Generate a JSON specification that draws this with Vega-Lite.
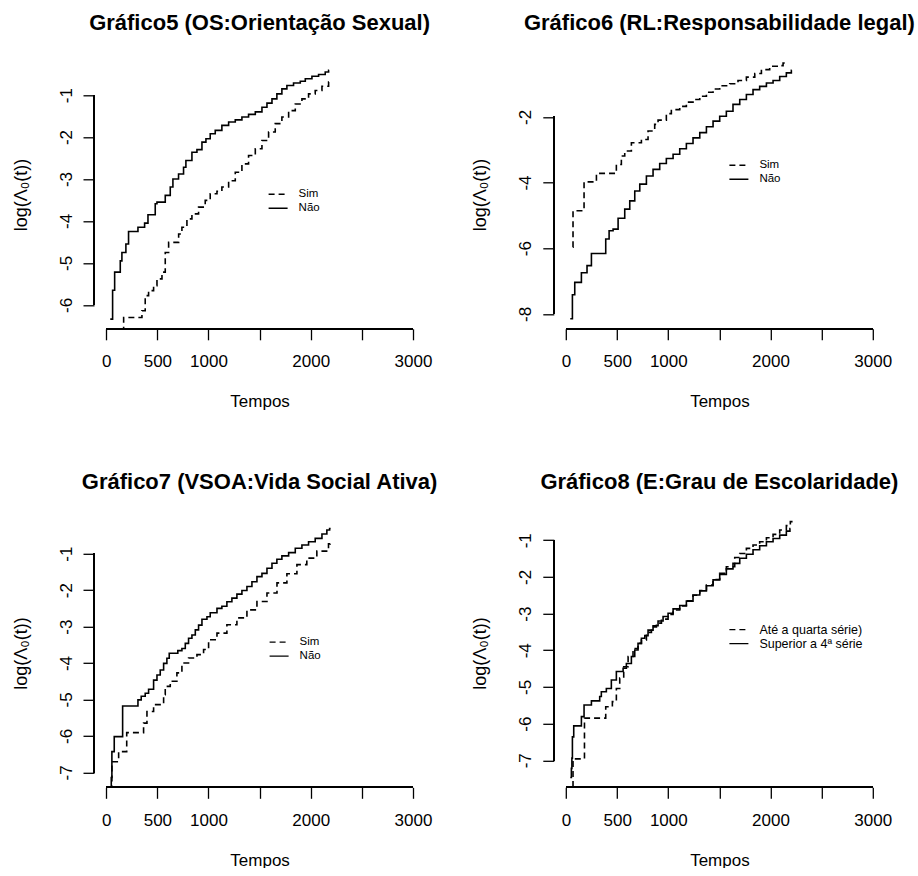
{
  "$schema": "https://vega.github.io/schema/vega-lite/v6.json",
  "background": "white",
  "padding": {"left": 11, "top": 12.3, "right": 0, "bottom": 0},
  "config": {
    "font": "Liberation Sans",
    "view": {"stroke": null},
    "title": {"font": "Liberation Sans", "fontSize": 22, "fontWeight": "bold", "color": "black", "anchor": "middle", "offset": 25},
    "axis": {
      "domain": false, "grid": false, "ticks": true,
      "tickColor": "black", "tickWidth": 1.3, "tickSize": 11,
      "labelFont": "Liberation Sans", "labelFontSize": 17, "labelColor": "black",
      "labelFlush": false, "labelOverlap": false,
      "titleFont": "Liberation Sans", "titleFontSize": 17, "titleFontWeight": "normal", "titleColor": "black"
    },
    "legend": {
      "orient": "none", "padding": 0, "symbolType": "stroke", "symbolSize": 361,
      "symbolStrokeWidth": 1.4, "symbolStrokeColor": "black",
      "labelFont": "Liberation Sans", "labelFontSize": 11.5, "labelColor": "black",
      "labelOffset": 10, "rowPadding": 0, "clipHeight": 13.2
    }
  },
  "datasets": {
    "p5": [
      {"t": 39, "v": -6.34, "g": "Não"}, {"t": 62, "v": -5.65, "g": "Não"}, {"t": 82, "v": -5.22, "g": "Não"},
      {"t": 137, "v": -4.95, "g": "Não"}, {"t": 153, "v": -4.75, "g": "Não"}, {"t": 192, "v": -4.55, "g": "Não"},
      {"t": 218, "v": -4.25, "g": "Não"}, {"t": 310, "v": -4.15, "g": "Não"}, {"t": 375, "v": -4.05, "g": "Não"},
      {"t": 408, "v": -3.85, "g": "Não"}, {"t": 479, "v": -3.59, "g": "Não"}, {"t": 496, "v": -3.55, "g": "Não"},
      {"t": 577, "v": -3.39, "g": "Não"}, {"t": 626, "v": -3.19, "g": "Não"}, {"t": 652, "v": -3.0, "g": "Não"},
      {"t": 707, "v": -2.88, "g": "Não"}, {"t": 756, "v": -2.72, "g": "Não"}, {"t": 779, "v": -2.56, "g": "Não"},
      {"t": 838, "v": -2.36, "g": "Não"}, {"t": 887, "v": -2.3, "g": "Não"}, {"t": 936, "v": -2.12, "g": "Não"},
      {"t": 975, "v": -2.04, "g": "Não"}, {"t": 1017, "v": -1.92, "g": "Não"}, {"t": 1066, "v": -1.84, "g": "Não"},
      {"t": 1131, "v": -1.72, "g": "Não"}, {"t": 1197, "v": -1.64, "g": "Não"}, {"t": 1262, "v": -1.59, "g": "Não"},
      {"t": 1327, "v": -1.52, "g": "Não"}, {"t": 1392, "v": -1.46, "g": "Não"}, {"t": 1458, "v": -1.4, "g": "Não"},
      {"t": 1523, "v": -1.29, "g": "Não"}, {"t": 1572, "v": -1.19, "g": "Não"}, {"t": 1621, "v": -1.09, "g": "Não"},
      {"t": 1669, "v": -0.97, "g": "Não"}, {"t": 1718, "v": -0.85, "g": "Não"}, {"t": 1767, "v": -0.77, "g": "Não"},
      {"t": 1832, "v": -0.71, "g": "Não"}, {"t": 1898, "v": -0.67, "g": "Não"}, {"t": 1947, "v": -0.61, "g": "Não"},
      {"t": 2012, "v": -0.55, "g": "Não"}, {"t": 2077, "v": -0.51, "g": "Não"}, {"t": 2142, "v": -0.45, "g": "Não"},
      {"t": 2175, "v": -0.41, "g": "Não"}, {"t": 2180, "v": -0.41, "g": "Não"},
      {"t": 169, "v": -6.9, "g": "Sim"}, {"t": 170, "v": -6.3, "g": "Sim"}, {"t": 349, "v": -6.14, "g": "Sim"},
      {"t": 381, "v": -5.78, "g": "Sim"}, {"t": 414, "v": -5.66, "g": "Sim"}, {"t": 463, "v": -5.54, "g": "Sim"},
      {"t": 496, "v": -5.38, "g": "Sim"}, {"t": 545, "v": -5.22, "g": "Sim"}, {"t": 577, "v": -4.75, "g": "Sim"},
      {"t": 610, "v": -4.51, "g": "Sim"}, {"t": 708, "v": -4.31, "g": "Sim"}, {"t": 740, "v": -4.15, "g": "Sim"},
      {"t": 789, "v": -3.95, "g": "Sim"}, {"t": 838, "v": -3.83, "g": "Sim"}, {"t": 903, "v": -3.67, "g": "Sim"},
      {"t": 968, "v": -3.51, "g": "Sim"}, {"t": 1017, "v": -3.35, "g": "Sim"}, {"t": 1083, "v": -3.29, "g": "Sim"},
      {"t": 1131, "v": -3.19, "g": "Sim"}, {"t": 1197, "v": -3.04, "g": "Sim"}, {"t": 1262, "v": -2.84, "g": "Sim"},
      {"t": 1327, "v": -2.64, "g": "Sim"}, {"t": 1392, "v": -2.44, "g": "Sim"}, {"t": 1458, "v": -2.28, "g": "Sim"},
      {"t": 1523, "v": -2.08, "g": "Sim"}, {"t": 1588, "v": -1.88, "g": "Sim"}, {"t": 1653, "v": -1.68, "g": "Sim"},
      {"t": 1718, "v": -1.52, "g": "Sim"}, {"t": 1784, "v": -1.37, "g": "Sim"}, {"t": 1849, "v": -1.21, "g": "Sim"},
      {"t": 1914, "v": -1.09, "g": "Sim"}, {"t": 1979, "v": -0.97, "g": "Sim"}, {"t": 2044, "v": -0.89, "g": "Sim"},
      {"t": 2110, "v": -0.79, "g": "Sim"}, {"t": 2175, "v": -0.69, "g": "Sim"}, {"t": 2185, "v": -0.69, "g": "Sim"}
    ],
    "p6": [
      {"t": 41, "v": -8.15, "g": "Não"}, {"t": 62, "v": -7.42, "g": "Não"}, {"t": 85, "v": -7.04, "g": "Não"},
      {"t": 150, "v": -6.75, "g": "Não"}, {"t": 205, "v": -6.53, "g": "Não"}, {"t": 248, "v": -6.16, "g": "Não"},
      {"t": 388, "v": -5.72, "g": "Não"}, {"t": 421, "v": -5.47, "g": "Não"}, {"t": 460, "v": -5.42, "g": "Não"},
      {"t": 509, "v": -5.09, "g": "Não"}, {"t": 574, "v": -4.81, "g": "Não"}, {"t": 623, "v": -4.56, "g": "Não"},
      {"t": 672, "v": -4.26, "g": "Não"}, {"t": 721, "v": -4.05, "g": "Não"}, {"t": 786, "v": -3.8, "g": "Não"},
      {"t": 851, "v": -3.6, "g": "Não"}, {"t": 916, "v": -3.42, "g": "Não"}, {"t": 981, "v": -3.27, "g": "Não"},
      {"t": 1047, "v": -3.14, "g": "Não"}, {"t": 1112, "v": -2.97, "g": "Não"}, {"t": 1177, "v": -2.81, "g": "Não"},
      {"t": 1242, "v": -2.64, "g": "Não"}, {"t": 1308, "v": -2.48, "g": "Não"}, {"t": 1373, "v": -2.3, "g": "Não"},
      {"t": 1438, "v": -2.13, "g": "Não"}, {"t": 1503, "v": -1.98, "g": "Não"}, {"t": 1568, "v": -1.83, "g": "Não"},
      {"t": 1633, "v": -1.62, "g": "Não"}, {"t": 1699, "v": -1.47, "g": "Não"}, {"t": 1764, "v": -1.32, "g": "Não"},
      {"t": 1829, "v": -1.17, "g": "Não"}, {"t": 1894, "v": -1.07, "g": "Não"}, {"t": 1960, "v": -0.97, "g": "Não"},
      {"t": 2025, "v": -0.89, "g": "Não"}, {"t": 2090, "v": -0.77, "g": "Não"}, {"t": 2155, "v": -0.66, "g": "Não"},
      {"t": 2204, "v": -0.58, "g": "Não"}, {"t": 2208, "v": -0.58, "g": "Não"},
      {"t": 67, "v": -5.97, "g": "Sim"}, {"t": 68, "v": -4.86, "g": "Sim"}, {"t": 176, "v": -3.98, "g": "Sim"},
      {"t": 297, "v": -3.72, "g": "Sim"}, {"t": 492, "v": -3.45, "g": "Sim"}, {"t": 541, "v": -3.19, "g": "Sim"},
      {"t": 574, "v": -3.04, "g": "Sim"}, {"t": 639, "v": -2.79, "g": "Sim"}, {"t": 737, "v": -2.69, "g": "Sim"},
      {"t": 802, "v": -2.43, "g": "Sim"}, {"t": 867, "v": -2.23, "g": "Sim"}, {"t": 900, "v": -2.1, "g": "Sim"},
      {"t": 981, "v": -1.9, "g": "Sim"}, {"t": 1030, "v": -1.78, "g": "Sim"}, {"t": 1112, "v": -1.68, "g": "Sim"},
      {"t": 1177, "v": -1.55, "g": "Sim"}, {"t": 1242, "v": -1.47, "g": "Sim"}, {"t": 1308, "v": -1.37, "g": "Sim"},
      {"t": 1373, "v": -1.25, "g": "Sim"}, {"t": 1438, "v": -1.15, "g": "Sim"}, {"t": 1503, "v": -1.05, "g": "Sim"},
      {"t": 1601, "v": -0.99, "g": "Sim"}, {"t": 1682, "v": -0.89, "g": "Sim"}, {"t": 1764, "v": -0.79, "g": "Sim"},
      {"t": 1846, "v": -0.68, "g": "Sim"}, {"t": 1911, "v": -0.56, "g": "Sim"}, {"t": 1992, "v": -0.46, "g": "Sim"},
      {"t": 2074, "v": -0.44, "g": "Sim"}, {"t": 2123, "v": -0.36, "g": "Sim"}, {"t": 2140, "v": -0.36, "g": "Sim"}
    ],
    "p7": [
      {"t": 48, "v": -7.8, "g": "Não"}, {"t": 49, "v": -7.14, "g": "Não"}, {"t": 55, "v": -6.43, "g": "Não"},
      {"t": 78, "v": -6.02, "g": "Não"}, {"t": 160, "v": -5.18, "g": "Não"}, {"t": 310, "v": -5.01, "g": "Não"},
      {"t": 342, "v": -4.91, "g": "Não"}, {"t": 381, "v": -4.83, "g": "Não"}, {"t": 414, "v": -4.72, "g": "Não"},
      {"t": 463, "v": -4.47, "g": "Não"}, {"t": 496, "v": -4.33, "g": "Não"}, {"t": 528, "v": -4.19, "g": "Não"},
      {"t": 561, "v": -4.01, "g": "Não"}, {"t": 593, "v": -3.87, "g": "Não"}, {"t": 616, "v": -3.73, "g": "Não"},
      {"t": 700, "v": -3.66, "g": "Não"}, {"t": 740, "v": -3.6, "g": "Não"}, {"t": 773, "v": -3.46, "g": "Não"},
      {"t": 805, "v": -3.32, "g": "Não"}, {"t": 838, "v": -3.23, "g": "Não"}, {"t": 871, "v": -3.09, "g": "Não"},
      {"t": 903, "v": -2.96, "g": "Não"}, {"t": 936, "v": -2.8, "g": "Não"}, {"t": 985, "v": -2.73, "g": "Não"},
      {"t": 1017, "v": -2.62, "g": "Não"}, {"t": 1083, "v": -2.5, "g": "Não"}, {"t": 1131, "v": -2.44, "g": "Não"},
      {"t": 1180, "v": -2.32, "g": "Não"}, {"t": 1229, "v": -2.22, "g": "Não"}, {"t": 1278, "v": -2.11, "g": "Não"},
      {"t": 1327, "v": -2.01, "g": "Não"}, {"t": 1376, "v": -1.9, "g": "Não"}, {"t": 1425, "v": -1.77, "g": "Não"},
      {"t": 1474, "v": -1.63, "g": "Não"}, {"t": 1523, "v": -1.54, "g": "Não"}, {"t": 1572, "v": -1.4, "g": "Não"},
      {"t": 1621, "v": -1.26, "g": "Não"}, {"t": 1669, "v": -1.15, "g": "Não"}, {"t": 1718, "v": -1.06, "g": "Não"},
      {"t": 1784, "v": -0.97, "g": "Não"}, {"t": 1849, "v": -0.85, "g": "Não"}, {"t": 1914, "v": -0.76, "g": "Não"},
      {"t": 1979, "v": -0.67, "g": "Não"}, {"t": 2044, "v": -0.58, "g": "Não"}, {"t": 2110, "v": -0.46, "g": "Não"},
      {"t": 2158, "v": -0.35, "g": "Não"}, {"t": 2185, "v": -0.31, "g": "Não"}, {"t": 2195, "v": -0.31, "g": "Não"},
      {"t": 54, "v": -7.8, "g": "Sim"}, {"t": 55, "v": -6.71, "g": "Sim"}, {"t": 121, "v": -6.43, "g": "Sim"},
      {"t": 200, "v": -5.91, "g": "Sim"}, {"t": 365, "v": -5.65, "g": "Sim"}, {"t": 398, "v": -5.33, "g": "Sim"},
      {"t": 463, "v": -5.14, "g": "Sim"}, {"t": 561, "v": -4.87, "g": "Sim"}, {"t": 577, "v": -4.64, "g": "Sim"},
      {"t": 626, "v": -4.5, "g": "Sim"}, {"t": 691, "v": -4.27, "g": "Sim"}, {"t": 740, "v": -4.0, "g": "Sim"},
      {"t": 805, "v": -3.86, "g": "Sim"}, {"t": 887, "v": -3.77, "g": "Sim"}, {"t": 952, "v": -3.63, "g": "Sim"},
      {"t": 1001, "v": -3.36, "g": "Sim"}, {"t": 1083, "v": -3.18, "g": "Sim"}, {"t": 1180, "v": -2.95, "g": "Sim"},
      {"t": 1278, "v": -2.76, "g": "Sim"}, {"t": 1376, "v": -2.54, "g": "Sim"}, {"t": 1474, "v": -2.31, "g": "Sim"},
      {"t": 1572, "v": -2.08, "g": "Sim"}, {"t": 1670, "v": -1.8, "g": "Sim"}, {"t": 1767, "v": -1.55, "g": "Sim"},
      {"t": 1865, "v": -1.3, "g": "Sim"}, {"t": 1962, "v": -1.12, "g": "Sim"}, {"t": 2060, "v": -0.93, "g": "Sim"},
      {"t": 2174, "v": -0.73, "g": "Sim"}, {"t": 2190, "v": -0.71, "g": "Sim"}
    ],
    "p8": [
      {"t": 41, "v": -7.47, "g": "Superior a 4ª série"}, {"t": 52, "v": -7.22, "g": "Superior a 4ª série"},
      {"t": 57, "v": -6.94, "g": "Superior a 4ª série"}, {"t": 62, "v": -6.36, "g": "Superior a 4ª série"},
      {"t": 75, "v": -6.06, "g": "Superior a 4ª série"}, {"t": 150, "v": -5.81, "g": "Superior a 4ª série"},
      {"t": 176, "v": -5.49, "g": "Superior a 4ª série"}, {"t": 248, "v": -5.38, "g": "Superior a 4ª série"},
      {"t": 329, "v": -5.26, "g": "Superior a 4ª série"}, {"t": 345, "v": -5.13, "g": "Superior a 4ª série"},
      {"t": 394, "v": -5.04, "g": "Superior a 4ª série"}, {"t": 443, "v": -4.81, "g": "Superior a 4ª série"},
      {"t": 492, "v": -4.58, "g": "Superior a 4ª série"}, {"t": 558, "v": -4.49, "g": "Superior a 4ª série"},
      {"t": 590, "v": -4.36, "g": "Superior a 4ª série"}, {"t": 639, "v": -4.17, "g": "Superior a 4ª série"},
      {"t": 672, "v": -3.99, "g": "Superior a 4ª série"}, {"t": 704, "v": -3.81, "g": "Superior a 4ª série"},
      {"t": 737, "v": -3.67, "g": "Superior a 4ª série"}, {"t": 770, "v": -3.6, "g": "Superior a 4ª série"},
      {"t": 802, "v": -3.45, "g": "Superior a 4ª série"}, {"t": 851, "v": -3.33, "g": "Superior a 4ª série"},
      {"t": 900, "v": -3.2, "g": "Superior a 4ª série"}, {"t": 949, "v": -3.08, "g": "Superior a 4ª série"},
      {"t": 998, "v": -2.99, "g": "Superior a 4ª série"}, {"t": 1047, "v": -2.87, "g": "Superior a 4ª série"},
      {"t": 1112, "v": -2.78, "g": "Superior a 4ª série"}, {"t": 1177, "v": -2.66, "g": "Superior a 4ª série"},
      {"t": 1242, "v": -2.49, "g": "Superior a 4ª série"}, {"t": 1308, "v": -2.38, "g": "Superior a 4ª série"},
      {"t": 1373, "v": -2.24, "g": "Superior a 4ª série"}, {"t": 1438, "v": -2.08, "g": "Superior a 4ª série"},
      {"t": 1503, "v": -1.93, "g": "Superior a 4ª série"}, {"t": 1568, "v": -1.78, "g": "Superior a 4ª série"},
      {"t": 1633, "v": -1.63, "g": "Superior a 4ª série"}, {"t": 1699, "v": -1.49, "g": "Superior a 4ª série"},
      {"t": 1764, "v": -1.38, "g": "Superior a 4ª série"}, {"t": 1829, "v": -1.26, "g": "Superior a 4ª série"},
      {"t": 1894, "v": -1.15, "g": "Superior a 4ª série"}, {"t": 1960, "v": -1.04, "g": "Superior a 4ª série"},
      {"t": 2025, "v": -0.95, "g": "Superior a 4ª série"}, {"t": 2090, "v": -0.86, "g": "Superior a 4ª série"},
      {"t": 2155, "v": -0.75, "g": "Superior a 4ª série"}, {"t": 2190, "v": -0.68, "g": "Superior a 4ª série"},
      {"t": 2195, "v": -0.68, "g": "Superior a 4ª série"},
      {"t": 67, "v": -8.0, "g": "Até a quarta série)"}, {"t": 68, "v": -6.96, "g": "Até a quarta série)"},
      {"t": 180, "v": -5.85, "g": "Até a quarta série)"}, {"t": 388, "v": -5.54, "g": "Até a quarta série)"},
      {"t": 453, "v": -5.4, "g": "Até a quarta série)"}, {"t": 492, "v": -5.04, "g": "Até a quarta série)"},
      {"t": 525, "v": -4.76, "g": "Até a quarta série)"}, {"t": 564, "v": -4.45, "g": "Até a quarta série)"},
      {"t": 607, "v": -4.17, "g": "Até a quarta série)"}, {"t": 655, "v": -3.95, "g": "Até a quarta série)"},
      {"t": 704, "v": -3.81, "g": "Até a quarta série)"}, {"t": 737, "v": -3.72, "g": "Até a quarta série)"},
      {"t": 786, "v": -3.51, "g": "Até a quarta série)"}, {"t": 835, "v": -3.36, "g": "Até a quarta série)"},
      {"t": 884, "v": -3.26, "g": "Até a quarta série)"}, {"t": 933, "v": -3.15, "g": "Até a quarta série)"},
      {"t": 998, "v": -3.02, "g": "Até a quarta série)"}, {"t": 1047, "v": -2.9, "g": "Até a quarta série)"},
      {"t": 1112, "v": -2.79, "g": "Até a quarta série)"}, {"t": 1177, "v": -2.65, "g": "Até a quarta série)"},
      {"t": 1242, "v": -2.5, "g": "Até a quarta série)"}, {"t": 1308, "v": -2.37, "g": "Até a quarta série)"},
      {"t": 1373, "v": -2.22, "g": "Até a quarta série)"}, {"t": 1438, "v": -2.07, "g": "Até a quarta série)"},
      {"t": 1503, "v": -1.9, "g": "Até a quarta série)"}, {"t": 1568, "v": -1.72, "g": "Até a quarta série)"},
      {"t": 1650, "v": -1.47, "g": "Até a quarta série)"}, {"t": 1699, "v": -1.36, "g": "Até a quarta série)"},
      {"t": 1764, "v": -1.22, "g": "Até a quarta série)"}, {"t": 1829, "v": -1.13, "g": "Até a quarta série)"},
      {"t": 1894, "v": -1.04, "g": "Até a quarta série)"}, {"t": 1960, "v": -0.93, "g": "Até a quarta série)"},
      {"t": 2025, "v": -0.84, "g": "Até a quarta série)"}, {"t": 2090, "v": -0.72, "g": "Até a quarta série)"},
      {"t": 2155, "v": -0.6, "g": "Até a quarta série)"}, {"t": 2194, "v": -0.49, "g": "Até a quarta série)"},
      {"t": 2208, "v": -0.47, "g": "Até a quarta série)"}
    ]
  },
  "columns": 2,
  "bounds": "flush",
  "spacing": {"row": 189.5, "column": 127.8},
  "resolve": {"scale": {"strokeDash": "independent"}, "legend": {"strokeDash": "independent"}},
  "concat": [
    {
      "width": 331.2, "height": 268.5,
      "title": "Gráfico5 (OS:Orientação Sexual)",
      "data": {"name": "p5"},
      "layer": [
        {
          "mark": {"type": "line", "interpolate": "step-after", "clip": true, "color": "black", "strokeWidth": 1.6},
          "encoding": {
            "x": {"field": "t", "type": "quantitative", "scale": {"domain": [-120, 3120], "nice": false, "zero": false},
                  "axis": {"title": "Tempos", "values": [0, 500, 1000, 1500, 2000, 2500, 3000], "labelExpr": "datum.value == 1500 || datum.value == 2500 ? '' : '' + datum.value", "labelPadding": 14, "titlePadding": 24}},
            "y": {"field": "v", "type": "quantitative", "scale": {"domain": [-6.57, -0.17], "nice": false, "zero": false},
                  "axis": {"title": "log(Λ₀(t))", "titleFontSize": 18, "values": [-6, -5, -4, -3, -2, -1], "labelExpr": "'' + datum.value", "labelAngle": -90, "labelAlign": "center", "labelBaseline": "alphabetic", "labelPadding": 12, "titlePadding": 27}},
            "strokeDash": {"field": "g", "type": "nominal", "scale": {"domain": ["Sim", "Não"], "range": [[6, 4], [1, 0]]},
                           "legend": {"title": null, "legendX": 173.6, "legendY": 127.3}}
          }
        },
        {
          "mark": {"type": "rule", "color": "black", "strokeWidth": 1.3},
          "encoding": {"x": {"datum": 0}, "x2": {"datum": 3000}, "y": {"datum": -6.57}}
        },
        {
          "mark": {"type": "rule", "color": "black", "strokeWidth": 1.3},
          "encoding": {"x": {"datum": -120}, "y": {"datum": -6}, "y2": {"datum": -1}}
        }
      ]
    },
    {
      "width": 331.2, "height": 268.5,
      "title": "Gráfico6 (RL:Responsabilidade legal)",
      "data": {"name": "p6"},
      "layer": [
        {
          "mark": {"type": "line", "interpolate": "step-after", "clip": true, "color": "black", "strokeWidth": 1.6},
          "encoding": {
            "x": {"field": "t", "type": "quantitative", "scale": {"domain": [-120, 3120], "nice": false, "zero": false},
                  "axis": {"title": "Tempos", "values": [0, 500, 1000, 1500, 2000, 2500, 3000], "labelExpr": "datum.value == 1500 || datum.value == 2500 ? '' : '' + datum.value", "labelPadding": 14, "titlePadding": 24}},
            "y": {"field": "v", "type": "quantitative", "scale": {"domain": [-8.455, -0.277], "nice": false, "zero": false},
                  "axis": {"title": "log(Λ₀(t))", "titleFontSize": 18, "values": [-8, -6, -4, -2], "labelExpr": "'' + datum.value", "labelAngle": -90, "labelAlign": "center", "labelBaseline": "alphabetic", "labelPadding": 12, "titlePadding": 27}},
            "strokeDash": {"field": "g", "type": "nominal", "scale": {"domain": ["Sim", "Não"], "range": [[6, 4], [1, 0]]},
                           "legend": {"title": null, "legendX": 174.6, "legendY": 98.3}}
          }
        },
        {
          "mark": {"type": "rule", "color": "black", "strokeWidth": 1.3},
          "encoding": {"x": {"datum": 0}, "x2": {"datum": 3000}, "y": {"datum": -8.455}}
        },
        {
          "mark": {"type": "rule", "color": "black", "strokeWidth": 1.3},
          "encoding": {"x": {"datum": -120}, "y": {"datum": -8}, "y2": {"datum": -2}}
        }
      ]
    },
    {
      "width": 331.2, "height": 268.5,
      "title": "Gráfico7 (VSOA:Vida Social Ativa)",
      "data": {"name": "p7"},
      "layer": [
        {
          "mark": {"type": "line", "interpolate": "step-after", "clip": true, "color": "black", "strokeWidth": 1.6},
          "encoding": {
            "x": {"field": "t", "type": "quantitative", "scale": {"domain": [-120, 3120], "nice": false, "zero": false},
                  "axis": {"title": "Tempos", "values": [0, 500, 1000, 1500, 2000, 2500, 3000], "labelExpr": "datum.value == 1500 || datum.value == 2500 ? '' : '' + datum.value", "labelPadding": 14, "titlePadding": 24}},
            "y": {"field": "v", "type": "quantitative", "scale": {"domain": [-7.41, -0.042], "nice": false, "zero": false},
                  "axis": {"title": "log(Λ₀(t))", "titleFontSize": 18, "values": [-7, -6, -5, -4, -3, -2, -1], "labelExpr": "'' + datum.value", "labelAngle": -90, "labelAlign": "center", "labelBaseline": "alphabetic", "labelPadding": 12, "titlePadding": 27}},
            "strokeDash": {"field": "g", "type": "nominal", "scale": {"domain": ["Sim", "Não"], "range": [[6, 4], [1, 0]]},
                           "legend": {"title": null, "legendX": 174.6, "legendY": 116.7}}
          }
        },
        {
          "mark": {"type": "rule", "color": "black", "strokeWidth": 1.3},
          "encoding": {"x": {"datum": 0}, "x2": {"datum": 3000}, "y": {"datum": -7.41}}
        },
        {
          "mark": {"type": "rule", "color": "black", "strokeWidth": 1.3},
          "encoding": {"x": {"datum": -120}, "y": {"datum": -7}, "y2": {"datum": -1}}
        }
      ]
    },
    {
      "width": 331.2, "height": 268.5,
      "title": "Gráfico8 (E:Grau de Escolaridade)",
      "data": {"name": "p8"},
      "layer": [
        {
          "mark": {"type": "line", "interpolate": "step-after", "clip": true, "color": "black", "strokeWidth": 1.6},
          "encoding": {
            "x": {"field": "t", "type": "quantitative", "scale": {"domain": [-120, 3120], "nice": false, "zero": false},
                  "axis": {"title": "Tempos", "values": [0, 500, 1000, 1500, 2000, 2500, 3000], "labelExpr": "datum.value == 1500 || datum.value == 2500 ? '' : '' + datum.value", "labelPadding": 14, "titlePadding": 24}},
            "y": {"field": "v", "type": "quantitative", "scale": {"domain": [-7.736, -0.414], "nice": false, "zero": false},
                  "axis": {"title": "log(Λ₀(t))", "titleFontSize": 18, "values": [-7, -6, -5, -4, -3, -2, -1], "labelExpr": "'' + datum.value", "labelAngle": -90, "labelAlign": "center", "labelBaseline": "alphabetic", "labelPadding": 12, "titlePadding": 27}},
            "strokeDash": {"field": "g", "type": "nominal", "scale": {"domain": ["Até a quarta série)", "Superior a 4ª série"], "range": [[6, 4], [1, 0]]},
                           "legend": {"title": null, "legendX": 174.6, "legendY": 104.2, "labelFontSize": 12.5}}
          }
        },
        {
          "mark": {"type": "rule", "color": "black", "strokeWidth": 1.3},
          "encoding": {"x": {"datum": 0}, "x2": {"datum": 3000}, "y": {"datum": -7.736}}
        },
        {
          "mark": {"type": "rule", "color": "black", "strokeWidth": 1.3},
          "encoding": {"x": {"datum": -120}, "y": {"datum": -7}, "y2": {"datum": -1}}
        }
      ]
    }
  ]
}
